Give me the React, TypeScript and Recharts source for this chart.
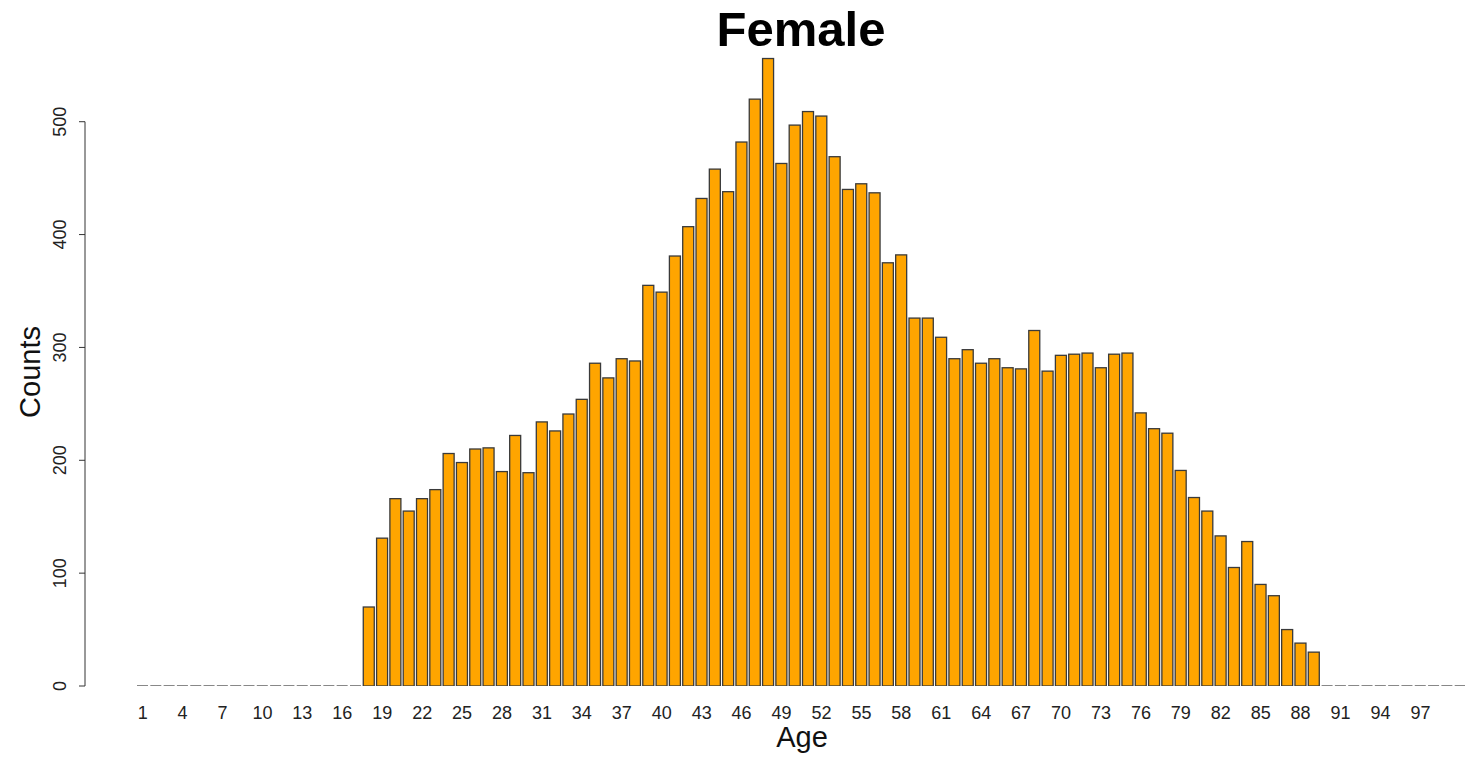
import React from 'react';
import { BarChart, Bar, XAxis, YAxis, ReferenceLine } from 'recharts';

const ages: number[] = Array.from({ length: 100 }, (_, i) => i + 1);
const counts: number[] = [
  0, 0, 0, 0, 0, 0, 0, 0, 0, 0,
  0, 0, 0, 0, 0, 0, 0,
  70, 131, 166,
  155, 166, 174, 206, 198, 210, 211, 190, 222, 189,
  234, 226, 241, 254, 286, 273, 290, 288, 355, 349,
  381, 407, 432, 458, 438, 482, 520, 556, 463, 497,
  509, 505, 469, 440, 445, 437, 375, 382, 326, 326,
  309, 290, 298, 286, 290, 282, 281, 315, 279, 293,
  294, 295, 282, 294, 295, 242, 228, 224, 191, 167,
  155, 133, 105, 128, 90, 80, 50, 38, 30, 0,
  0, 0, 0, 0, 0, 0, 0, 0, 0, 0,
];
const xTickLabels: number[] = [1, 4, 7, 10, 13, 16, 19, 22, 25, 28, 31, 34, 37, 40, 43, 46, 49, 52, 55, 58, 61, 64, 67, 70, 73, 76, 79, 82, 85, 88, 91, 94, 97];
const yTicks: number[] = [0, 100, 200, 300, 400, 500];

const data = ages.map((age, i) => ({ age, count: counts[i] }));

const FONT = '"Liberation Sans", Arial, Helvetica, sans-serif';

const XTick = (props: any) => {
  const { x, y, payload } = props;
  if (!xTickLabels.includes(Number(payload.value))) return <g />;
  return (
    <text x={x} y={y + 19} textAnchor="middle" dominantBaseline="central" fontSize={18} fontFamily={FONT} fill="#222">
      {payload.value}
    </text>
  );
};

const YTick = (props: any) => {
  const { x, y, payload } = props;
  const tx = x - 17;
  return (
    <text x={tx} y={y} transform={`rotate(-90, ${tx}, ${y})`} textAnchor="middle" dominantBaseline="central" fontSize={18} fontFamily={FONT} fill="#222">
      {payload.value}
    </text>
  );
};

const BarShape = (props: any) => {
  const { x, y, width, height } = props;
  if (!height || Math.abs(height) < 0.5) {
    return <line x1={x} x2={x + width} y1={y} y2={y} stroke="#555" strokeWidth={1.4} />;
  }
  return <rect x={x} y={y} width={width} height={height} fill="#FFA500" stroke="#3a3a3a" strokeWidth={1.3} />;
};

export default function App() {
  return (
    <div style={{ position: 'relative', width: 1465, height: 751, fontFamily: FONT }}>
      <BarChart
        width={1465}
        height={751}
        data={data}
        margin={{ top: 46, right: 6, bottom: 33, left: 0 }}
        barSize={11}
      >
        <XAxis
          dataKey="age"
          interval={0}
          tick={<XTick />}
          tickLine={false}
          axisLine={false}
          height={40}
          padding={{ left: 51, right: 0 }}
        />
        <XAxis xAxisId="n" type="number" domain={[0, 1]} hide allowDataOverflow />
        <YAxis
          domain={[0, 560]}
          ticks={yTicks}
          width={77}
          axisLine={false}
          tickSize={6}
          tickMargin={2}
          tickLine={{ stroke: '#333' }}
          tick={<YTick />}
          allowDataOverflow
        />
        <ReferenceLine
          xAxisId="n"
          segment={[{ x: 0, y: 0 }, { x: 0, y: 500 }]}
          stroke="#333"
          strokeWidth={1}
          ifOverflow="visible"
        />
        <Bar dataKey="count" fill="#FFA500" stroke="#3a3a3a" isAnimationActive={false} shape={BarShape} />
      </BarChart>
      <div style={{ position: 'absolute', left: 793, top: -3, transform: 'translateX(-50%)', fontSize: 49, lineHeight: '49px', fontWeight: 'bold', color: '#000', whiteSpace: 'nowrap' }}>
        Female
      </div>
      <div style={{ position: 'absolute', left: 794, top: 715, transform: 'translateX(-50%)', fontSize: 29, lineHeight: '29px', color: '#111', whiteSpace: 'nowrap' }}>
        Age
      </div>
      <div style={{ position: 'absolute', left: 22, top: 364, transform: 'translate(-50%, -50%) rotate(-90deg)', fontSize: 29, lineHeight: '29px', color: '#111', whiteSpace: 'nowrap' }}>
        Counts
      </div>
    </div>
  );
}
